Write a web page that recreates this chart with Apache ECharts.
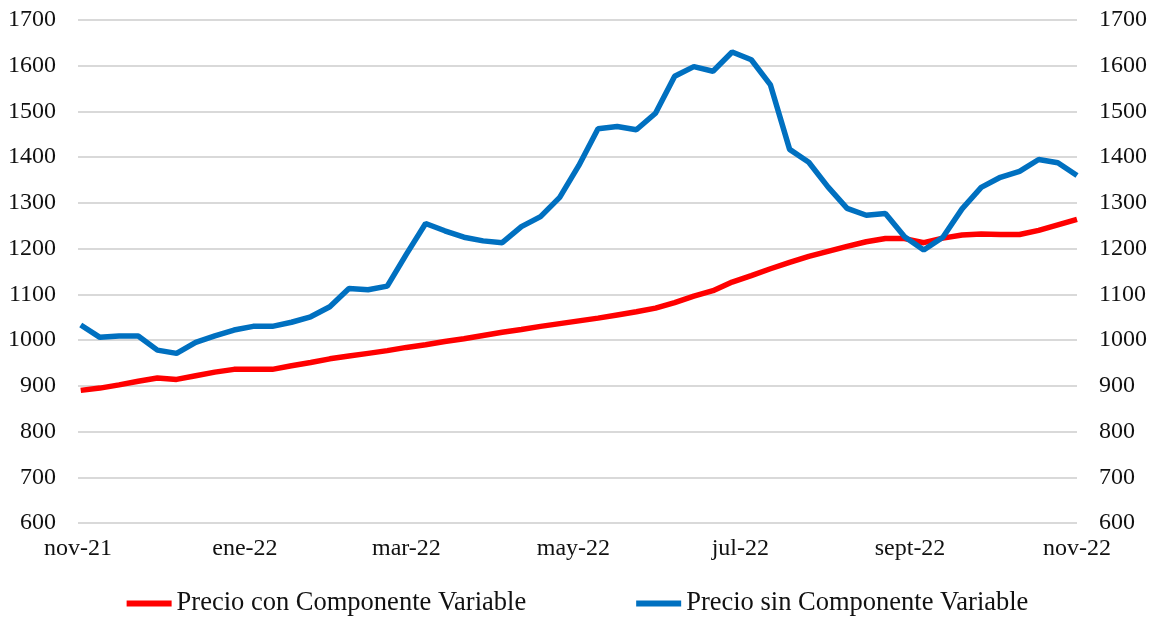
<html lang="es">
<head>
    <meta charset="UTF-8">
    <title>Precio con y sin componente variable</title>
    <script src="https://cdn.jsdelivr.net/npm/echarts@6/dist/echarts.min.js"></script>
    <style>
        html, body { margin: 0; padding: 0; background: #fff; }
        #chart { width: 1155px; height: 617px; }
    </style>
</head>
<body>
    <div id="chart"></div>
    <script>
        // semanas (martes) de nov-21 a nov-22
        var fechas = [
            '2021-11-02', '2021-11-09', '2021-11-16', '2021-11-23', '2021-11-30',
            '2021-12-07', '2021-12-14', '2021-12-21', '2021-12-28',
            '2022-01-04', '2022-01-11', '2022-01-18', '2022-01-25',
            '2022-02-01', '2022-02-08', '2022-02-15', '2022-02-22',
            '2022-03-01', '2022-03-08', '2022-03-15', '2022-03-22', '2022-03-29',
            '2022-04-05', '2022-04-12', '2022-04-19', '2022-04-26',
            '2022-05-03', '2022-05-10', '2022-05-17', '2022-05-24', '2022-05-31',
            '2022-06-07', '2022-06-14', '2022-06-21', '2022-06-28',
            '2022-07-05', '2022-07-12', '2022-07-19', '2022-07-26',
            '2022-08-02', '2022-08-09', '2022-08-16', '2022-08-23', '2022-08-30',
            '2022-09-06', '2022-09-13', '2022-09-20', '2022-09-27',
            '2022-10-04', '2022-10-11', '2022-10-18', '2022-10-25',
            '2022-11-01'
        ];

        var conVariable = [
            890, 895, 902, 910, 917, 914, 922, 930, 936,
            936, 936, 944, 951, 959, 965, 971, 977,
            984, 990, 997, 1003, 1010, 1017, 1023, 1030, 1036,
            1042, 1048, 1055, 1062, 1070, 1082, 1096, 1108, 1127,
            1141, 1156, 1170, 1183, 1194, 1205, 1215, 1222, 1222,
            1213, 1223, 1230, 1232, 1231, 1231, 1240, 1252, 1264
        ];

        var sinVariable = [
            1033, 1006, 1009, 1009, 978, 971, 995, 1009, 1022,
            1030, 1030, 1039, 1051, 1073, 1113, 1110, 1118,
            1188, 1255, 1239, 1225, 1217, 1213, 1248, 1270, 1312,
            1382, 1462, 1467, 1460, 1496, 1577, 1598, 1588, 1630,
            1613, 1558, 1417, 1389, 1335, 1288, 1273, 1277, 1226,
            1197, 1225, 1287, 1334, 1356, 1369, 1395, 1388, 1360
        ];

        // marcas del eje x
        var fechasEje = ['2021-11-01', '2022-01-01', '2022-03-01', '2022-05-01', '2022-07-01', '2022-09-01', '2022-11-01'];
        var etiquetasEje = ['nov-21', 'ene-22', 'mar-22', 'may-22', 'jul-22', 'sept-22', 'nov-22'];

        var fuente = 'Liberation Serif, Times New Roman, serif';

        function ms(d) {
            var p = d.split('-');
            return Date.UTC(+p[0], +p[1] - 1, +p[2]);
        }
        var ticksX = fechasEje.map(ms);

        function serie(valores) {
            return fechas.map(function (d, i) { return [ms(d), valores[i]]; });
        }

        var etiquetaY = {
            margin: 22, fontFamily: fuente, fontSize: 24, color: '#111',
            formatter: function (v) { return String(v); }
        };

        var chart = echarts.init(document.getElementById('chart'));

        var option = {
            animation: false,
            backgroundColor: '#ffffff',
            textStyle: { fontFamily: fuente },
            grid: { left: 78, right: 78, top: 20, bottom: 94 },
            legend: {
                left: 'center',
                top: 585,
                icon: 'rect',
                itemWidth: 45,
                itemHeight: 6,
                itemGap: 110,
                textStyle: { fontFamily: fuente, fontSize: 26.5, color: '#111' },
                data: ['Precio con Componente Variable', 'Precio sin Componente Variable']
            },
            xAxis: {
                type: 'value',
                min: ticksX[0],
                max: ticksX[ticksX.length - 1],
                axisLine: { show: false },
                axisTick: { show: false },
                splitLine: { show: false },
                axisLabel: {
                    customValues: ticksX,
                    hideOverlap: false,
                    margin: 14,
                    fontFamily: fuente,
                    fontSize: 24,
                    color: '#111',
                    formatter: function (v) {
                        var i = ticksX.indexOf(+v);
                        return i >= 0 ? etiquetasEje[i] : '';
                    }
                }
            },
            yAxis: [{
                type: 'value',
                min: 600,
                max: 1700,
                interval: 100,
                axisLine: { show: false },
                axisTick: { show: false },
                splitLine: { lineStyle: { color: '#d9d9d9', width: 2 } },
                axisLabel: etiquetaY
            }, {
                type: 'value',
                position: 'right',
                min: 600,
                max: 1700,
                interval: 100,
                axisLine: { show: false },
                axisTick: { show: false },
                splitLine: { show: false },
                axisLabel: etiquetaY
            }],
            series: [{
                name: 'Precio con Componente Variable',
                type: 'line',
                yAxisIndex: 0,
                showSymbol: false,
                data: serie(conVariable),
                itemStyle: { color: '#ff0000' },
                lineStyle: { color: '#ff0000', width: 5.5 }
            }, {
                name: 'Precio sin Componente Variable',
                type: 'line',
                yAxisIndex: 1,
                showSymbol: false,
                data: serie(sinVariable),
                itemStyle: { color: '#0070c0' },
                lineStyle: { color: '#0070c0', width: 5.5 }
            }]
        };

        chart.setOption(option);
    </script>
</body>
</html>
